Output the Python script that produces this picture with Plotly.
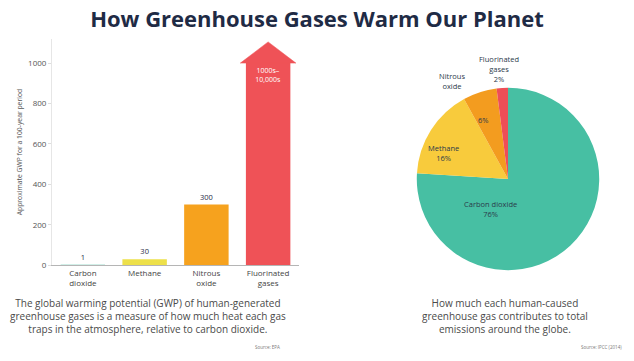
import plotly.graph_objects as go

# ---------------- data ----------------
title_text = "How Greenhouse Gases Warm Our Planet"

bar_categories = ["Carbon<br>dioxide", "Methane", "Nitrous<br>oxide", "Fluorinated<br>gases"]
gwp_values = [1, 30, 300, 1000]
gwp_labels = ["1", "30", "300", "1000s–<br>10,000s"]
bar_colors = ["#47BFA3", "#EDE04A", "#F6A21E", "#EF5257"]
y_ticks = [0, 200, 400, 600, 800, 1000]
y_title = "Approximate GWP for a 100-year period"

pie_labels = ["Carbon dioxide", "Methane", "Nitrous oxide", "Fluorinated gases"]
pie_shares = [76, 16, 6, 2]
pie_colors = ["#47BFA3", "#F8CB3C", "#F39C1F", "#EE4E57"]

left_caption = ("The global warming potential (GWP) of human-generated<br>"
                "greenhouse gases is a measure of how much heat each gas<br>"
                "traps in the atmosphere, relative to carbon dioxide.")
right_caption = ("How much each human-caused<br>"
                 "greenhouse gas contributes to total<br>"
                 "emissions around the globe.")
left_source = "Source: EPA"
right_source = "Source: IPCC (2014)"

# ---------------- figure ----------------
W, H = 634, 361
NAVY = "#1F2B45"
FONT = "Open Sans"

def px(x):
    return x / W

def py(y):
    return 1 - y / H

fig = go.Figure()

xs = list(range(len(bar_categories)))
fig.add_trace(go.Bar(
    x=xs, y=gwp_values, marker=dict(color=bar_colors, line=dict(width=0)),
    width=0.72, text=gwp_labels,
    textposition=["outside", "outside", "outside", "inside"],
    insidetextanchor="end", constraintext="none",
    outsidetextfont=dict(size=7.5, color=NAVY, family=FONT),
    insidetextfont=dict(size=7, color="white", family=FONT),
    cliponaxis=False, showlegend=False, hoverinfo="x+y",
))

# arrow head on top of the capped fluorinated bar
head_half = 0.45
head_h = 105
cap_i = len(gwp_values) - 1
cap_v = gwp_values[cap_i]
fig.add_trace(go.Scatter(
    x=[cap_i - head_half, cap_i + head_half, cap_i, cap_i - head_half],
    y=[cap_v, cap_v, cap_v + head_h, cap_v],
    mode="lines", fill="toself", fillcolor=bar_colors[cap_i],
    line=dict(color=bar_colors[cap_i], width=0.5),
    cliponaxis=False, showlegend=False, hoverinfo="skip",
))

fig.add_trace(go.Pie(
    labels=pie_labels, values=pie_shares, sort=False, direction="clockwise",
    rotation=0, marker=dict(colors=pie_colors, line=dict(width=0)),
    textinfo="none", showlegend=False,
    domain=dict(x=[px(383), px(633)], y=[py(274), py(89)]),
))

ann = []
# pie labels
pie_label_pos = [
    (490, 212, f"{pie_labels[0]}<br>{pie_shares[0]}%"),
    (443, 155, f"{pie_labels[1]}<br>{pie_shares[1]}%"),
    (483, 122, f"{pie_shares[2]}%"),
    (452, 82, "Nitrous<br>oxide"),
    (499, 70, f"Fluorinated<br>gases<br>{pie_shares[3]}%"),
]
for x, y, t in pie_label_pos:
    ann.append(dict(x=px(x), y=py(y), xref="paper", yref="paper", text=t,
                    showarrow=False, xanchor="center", yanchor="middle",
                    font=dict(size=7.5, color="#2B3A4A", family=FONT),
                    align="center"))

ann.append(dict(x=px(148), y=py(320), xref="paper", yref="paper", text=left_caption,
                showarrow=False, xanchor="center", yanchor="middle", align="center",
                font=dict(size=10, color="#4A4A4A", family=FONT)))
ann.append(dict(x=px(505), y=py(320), xref="paper", yref="paper", text=right_caption,
                showarrow=False, xanchor="center", yanchor="middle", align="center",
                font=dict(size=10, color="#4A4A4A", family=FONT)))
ann.append(dict(x=px(282), y=py(352), xref="paper", yref="paper", text=left_source,
                showarrow=False, xanchor="right", yanchor="middle",
                font=dict(size=4.5, color="#777777", family=FONT)))
ann.append(dict(x=px(624), y=py(352), xref="paper", yref="paper", text=right_source,
                showarrow=False, xanchor="right", yanchor="middle",
                font=dict(size=4.5, color="#777777", family=FONT)))

fig.update_layout(
    width=W, height=H, margin=dict(l=0, r=0, t=0, b=0),
    paper_bgcolor="white", plot_bgcolor="white",
    title=dict(text=f"<b>{title_text}</b>", x=0.5, xanchor="center",
               y=py(19), yanchor="middle",
               font=dict(size=22, color=NAVY, family=FONT, weight=800)),
    annotations=ann,
    xaxis=dict(domain=[px(52), px(299)], range=[-0.5, 3.5],
               tickvals=xs, ticktext=bar_categories, showline=True,
               linecolor="#B5B5B5", linewidth=1, showgrid=False, zeroline=False,
               ticks="", tickfont=dict(size=8, color="#444444", family=FONT),
               fixedrange=True),
    yaxis=dict(domain=[py(269), py(39.4)], range=[0, 1120],
               tickvals=y_ticks, showgrid=False, zeroline=False,
               showline=True, linecolor="#E6E6E6", linewidth=1,
               ticks="outside", ticklen=3, tickcolor="#DDDDDD",
               tickfont=dict(size=8, color="#555555", family=FONT),
               title=dict(text=y_title, standoff=4,
                          font=dict(size=6.8, color="#555555", family=FONT)),
               fixedrange=True),
)

fig.write_html("out.html")
